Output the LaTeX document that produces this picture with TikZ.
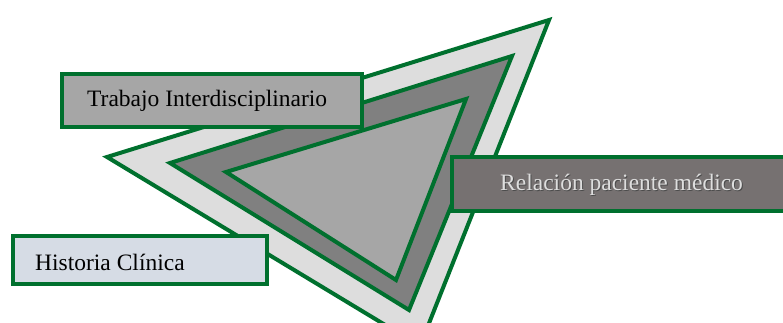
\documentclass[tikz,border=0pt]{standalone}
\usepackage{fontspec}
\setmainfont{Liberation Serif}
\definecolor{edgegreen}{RGB}{0,112,46}
\definecolor{shellgray}{RGB}{221,221,221}
\definecolor{midgray}{RGB}{128,128,128}
\definecolor{coregray}{RGB}{166,166,166}
\definecolor{relfill}{RGB}{118,113,113}
\definecolor{histfill}{RGB}{214,220,229}
\definecolor{reltext}{RGB}{222,222,222}
\tikzset{
  tri/.style={draw=edgegreen, line width=4pt, line join=miter},
  panel/.style={draw=edgegreen, line width=3.5pt},
  lbl/.style={anchor=base west, inner sep=0pt, font=\fontsize{23.5}{28}\selectfont},
}
\begin{document}
\begin{tikzpicture}[x=1pt,y=-1pt]
  \useasboundingbox (0,0) rectangle (783,323);
  \begin{scope}
    \clip (0,0) rectangle (783,323);
    % nested triangles
    \draw[tri, fill=shellgray] (107,157) -- (549,20) -- (420,346) -- cycle;
    \draw[tri, fill=midgray] (170,163) -- (512,56) -- (409,310) -- cycle;
    \draw[tri, fill=coregray] (226,172) -- (466,99) -- (396,280) -- cycle;
    % labelled panels
    \draw[panel, fill=coregray] (62,74) rectangle (362,127);
    \node[lbl] (trab) at (87,107) {Trabajo Interdisciplinario};
    \draw[panel, fill=relfill] (452,157) rectangle (795,211);
    \node[lbl, text=black!70] (relsh) at (501,191) {Relación paciente médico};
    \node[lbl, text=reltext] (rel) at (500,190) {Relación paciente médico};
    \draw[panel, fill=histfill] (13,236) rectangle (267,284);
    \node[lbl] (hist) at (35,270) {Historia Clínica};
  \end{scope}
\end{tikzpicture}
\end{document}
